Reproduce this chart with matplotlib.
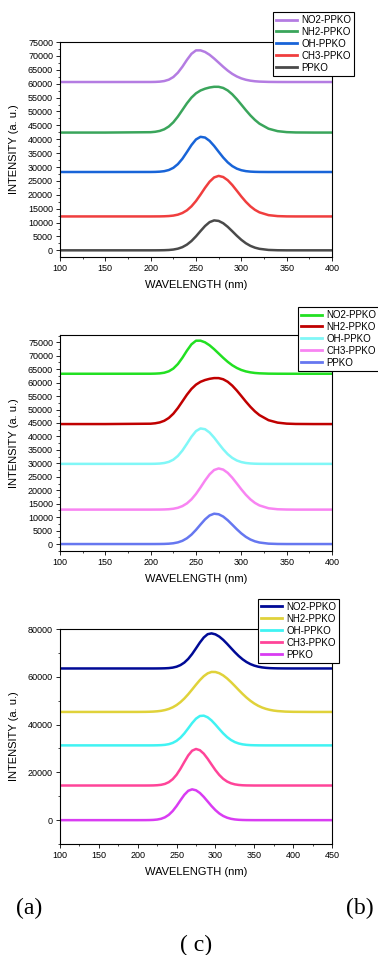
import matplotlib
matplotlib.use("Agg")
import matplotlib.pyplot as plt
from matplotlib.ticker import MultipleLocator

plt.rcParams['font.family'] = ['Liberation Sans', 'DejaVu Sans']

# wavelength grid for (a) and (b)
wl_ab = [100, 150, 200, 205, 210, 215, 220, 225, 230, 235, 240, 245, 250, 255,
         260, 265, 270, 275, 280, 285, 290, 295, 300, 305, 310, 315, 320,
         330, 340, 350, 360, 380, 400]

# panel (a)
a_ppko = [0, 0, 0, 5, 17, 48, 119, 278, 590, 1145, 2052, 3348, 5033, 6934,
          8759, 10152, 10778, 10584, 9763, 8456, 6880, 5260, 3780, 2549, 1609, 961, 540,
          140, 28, 0, 0, 0, 0]
a_ch3 = [12200, 12200, 12200, 12210, 12220, 12260, 12340, 12510, 12840, 13440, 14400, 15840, 17760, 20070,
         22520, 24710, 26250, 26800, 26390, 25240, 23520, 21470, 19380, 17460, 15840, 14580, 13670,
         12670, 12320, 12220, 12200, 12200, 12200]
a_oh = [28200, 28200, 28210, 28240, 28320, 28500, 28910, 29700, 31030, 32960, 35390, 37900, 39920, 40870,
        40600, 39410, 37590, 35480, 33420, 31670, 30330, 29410, 28840, 28510, 28340, 28260, 28220,
        28200, 28200, 28200, 28200, 28200, 28200]
a_nh2 = [42400, 42400, 42530, 42680, 42990, 43580, 44580, 46100, 48150, 50530, 52930, 54990, 56530, 57550,
         58190, 58630, 58880, 58870, 58460, 57560, 56180, 54420, 52460, 50460, 48580, 46950, 45600,
         43790, 42910, 42560, 42440, 42400, 42400]
a_no2 = [60600, 60600, 60610, 60640, 60730, 60950, 61440, 62390, 63950, 66100, 68570, 70750, 71990, 72000,
         71420, 70400, 69060, 67580, 66090, 64710, 63530, 62600, 61900, 61410, 61080, 60870, 60750,
         60640, 60610, 60600, 60600, 60600, 60600]

# panel (b)
b_ppko = [0, 0, 0, 6, 18, 50, 124, 290, 617, 1198, 2147, 3503, 5266, 7255,
          9164, 10622, 11277, 11074, 10215, 8848, 7198, 5503, 3955, 2667, 1684, 1006, 565,
          147, 29, 0, 0, 0, 0]
b_ch3 = [12800, 12800, 12800, 12810, 12820, 12860, 12940, 13120, 13470, 14100, 15110, 16610, 18630, 21050,
         23620, 25910, 27520, 28100, 27670, 26460, 24660, 22520, 20330, 18310, 16610, 15290, 14350,
         13300, 12930, 12830, 12800, 12800, 12800]
b_oh = [29800, 29800, 29810, 29840, 29920, 30120, 30540, 31360, 32740, 34750, 37270, 39890, 41980, 42970,
        42680, 41450, 39560, 37360, 35230, 33400, 32020, 31060, 30470, 30130, 29950, 29860, 29820,
        29800, 29800, 29800, 29800, 29800, 29800]
b_nh2 = [44600, 44600, 44730, 44890, 45210, 45820, 46860, 48440, 50560, 53030, 55520, 57660, 59250, 60310,
         60970, 61420, 61690, 61680, 61250, 60320, 58890, 57070, 55030, 52950, 51010, 49310, 47920,
         46040, 45130, 44760, 44640, 44600, 44600]
b_no2 = [63300, 63300, 63310, 63350, 63440, 63680, 64210, 65230, 66910, 69230, 71890, 74240, 75580, 75600,
         74970, 73870, 72430, 70830, 69220, 67730, 66460, 65460, 64700, 64170, 63820, 63590, 63460,
         63340, 63310, 63300, 63300, 63300, 63300]

# wavelength grid for (c)
wl_c = [100, 150, 200, 210, 215, 220, 225, 230, 235, 240, 245, 250, 255, 260,
        265, 270, 275, 280, 285, 290, 295, 300, 305, 310, 315, 320, 325, 330,
        335, 340, 345, 350, 355, 360, 365, 370, 375, 380, 390, 400, 425, 450]

c_ppko = [0, 0, 0, 12, 35, 98, 248, 566, 1179, 2224, 3806, 5906, 8308, 10612,
          12285, 12900, 12500, 11384, 9737, 7824, 5906, 4189, 2790, 1745, 1027, 566, 294, 143,
          66, 28, 12, 0, 0, 0, 0, 0, 0, 0, 0, 0, 0, 0]
c_ch3 = [14500, 14500, 14500, 14500, 14510, 14540, 14620, 14790, 15170, 15900, 17140, 19010, 21500, 24350,
         27090, 29070, 29800, 29280, 27830, 25700, 23300, 20940, 18900, 17300, 16170, 15430, 14980, 14730,
         14600, 14540, 14520, 14500, 14500, 14500, 14500, 14500, 14500, 14500, 14500, 14500, 14500, 14500]
c_oh = [31300, 31300, 31300, 31300, 31300, 31310, 31340, 31400, 31530, 31810, 32330, 33200, 34520, 36310,
        38440, 40630, 42490, 43610, 43740, 43060, 41740, 40010, 38130, 36330, 34780, 33560, 32680, 32090,
        31730, 31520, 31400, 31350, 31320, 31310, 31300, 31300, 31300, 31300, 31300, 31300, 31300, 31300]
c_nh2 = [45300, 45300, 45310, 45340, 45380, 45450, 45570, 45760, 46080, 46550, 47230, 48170, 49400, 50920,
         52710, 54680, 56710, 58630, 60270, 61450, 62050, 62020, 61510, 60590, 59330, 57820, 56170, 54470,
         52830, 51310, 49970, 48830, 47890, 47150, 46590, 46170, 45870, 45670, 45440, 45350, 45300, 45300]
c_no2 = [63500, 63500, 63500, 63500, 63500, 63500, 63510, 63530, 63570, 63660, 63860, 64240, 64910, 65970,
         67510, 69540, 71920, 74360, 76470, 77850, 78190, 77780, 76840, 75480, 73830, 72060, 70310, 68710,
         67330, 66200, 65330, 64700, 64250, 63950, 63760, 63640, 63580, 63540, 63510, 63500, 63500, 63500]

names = ["NO2-PPKO", "NH2-PPKO", "OH-PPKO", "CH3-PPKO", "PPKO"]

panels = [
    dict(x=wl_ab, ys=[a_no2, a_nh2, a_oh, a_ch3, a_ppko],
         colors=["#b47ce2", "#3aa55b", "#1864d8", "#f03e3e", "#4a4a4a"],
         rect=[0.1587, 0.7309, 0.7196, 0.2251], ylim=(-2400, 75000), xlim=(100, 400),
         ymaj=5000, leg=(0.722, 0.9874)),
    dict(x=wl_ab, ys=[b_no2, b_nh2, b_oh, b_ch3, b_ppko],
         colors=["#22e022", "#c00000", "#80f7f7", "#f884f2", "#6677f0"],
         rect=[0.1587, 0.4230, 0.7196, 0.2262], ylim=(-2600, 77700), xlim=(100, 400),
         ymaj=5000, leg=(0.788, 0.6785)),
    dict(x=wl_c, ys=[c_no2, c_nh2, c_oh, c_ch3, c_ppko],
         colors=["#000a96", "#e0d23a", "#40f3f3", "#ff4499", "#d93cf2"],
         rect=[0.1587, 0.1162, 0.7196, 0.2251], ylim=(-10000, 80000), xlim=(100, 450),
         ymaj=20000, leg=(0.683, 0.3728)),
]

fig = plt.figure(figsize=(3.78, 9.55), dpi=100)

for p in panels:
    ax = fig.add_axes(p["rect"])
    handles = []
    for y, c, n in zip(p["ys"][::-1], p["colors"][::-1], names[::-1]):
        h, = ax.plot(p["x"], y, color=c, lw=1.8, label=n)
        handles.append(h)
    ax.set_xlim(*p["xlim"])
    ax.set_ylim(*p["ylim"])
    ax.xaxis.set_major_locator(MultipleLocator(50))
    ax.xaxis.set_minor_locator(MultipleLocator(25))
    ax.yaxis.set_major_locator(MultipleLocator(p["ymaj"]))
    ax.yaxis.set_minor_locator(MultipleLocator(p["ymaj"] / 2))
    ax.tick_params(which="major", direction="out", length=3, width=0.6, labelsize=6.5, pad=2)
    ax.tick_params(which="minor", direction="out", length=1.5, width=0.5)
    for s in ax.spines.values():
        s.set_linewidth(0.8)
    ax.set_xlabel("WAVELENGTH (nm)", fontsize=8)
    ax.set_ylabel("INTENSITY (a. u.)", fontsize=8)
    ax.xaxis.set_label_coords(0.5, -0.105)
    ax.yaxis.set_label_coords(-0.15, 0.5)
    leg = ax.legend(handles[::-1], names, loc="upper left", bbox_to_anchor=p["leg"],
                    bbox_transform=fig.transFigure, fontsize=7, frameon=True,
                    fancybox=False, framealpha=1, edgecolor="black", borderaxespad=0,
                    borderpad=0.3, labelspacing=0.2, handlelength=2.2, handletextpad=0.4)
    leg.get_frame().set_linewidth(0.8)
    for line in leg.get_lines():
        line.set_linewidth(2.0)

fig.text(0.077, 0.049, "(a)", family="Liberation Serif", fontsize=17, ha="center", va="center")
fig.text(0.952, 0.049, "(b)", family="Liberation Serif", fontsize=17, ha="center", va="center")
fig.text(0.519, 0.0105, "( c)", family="Liberation Serif", fontsize=17, ha="center", va="center")

fig.savefig("out.png", dpi=100)
